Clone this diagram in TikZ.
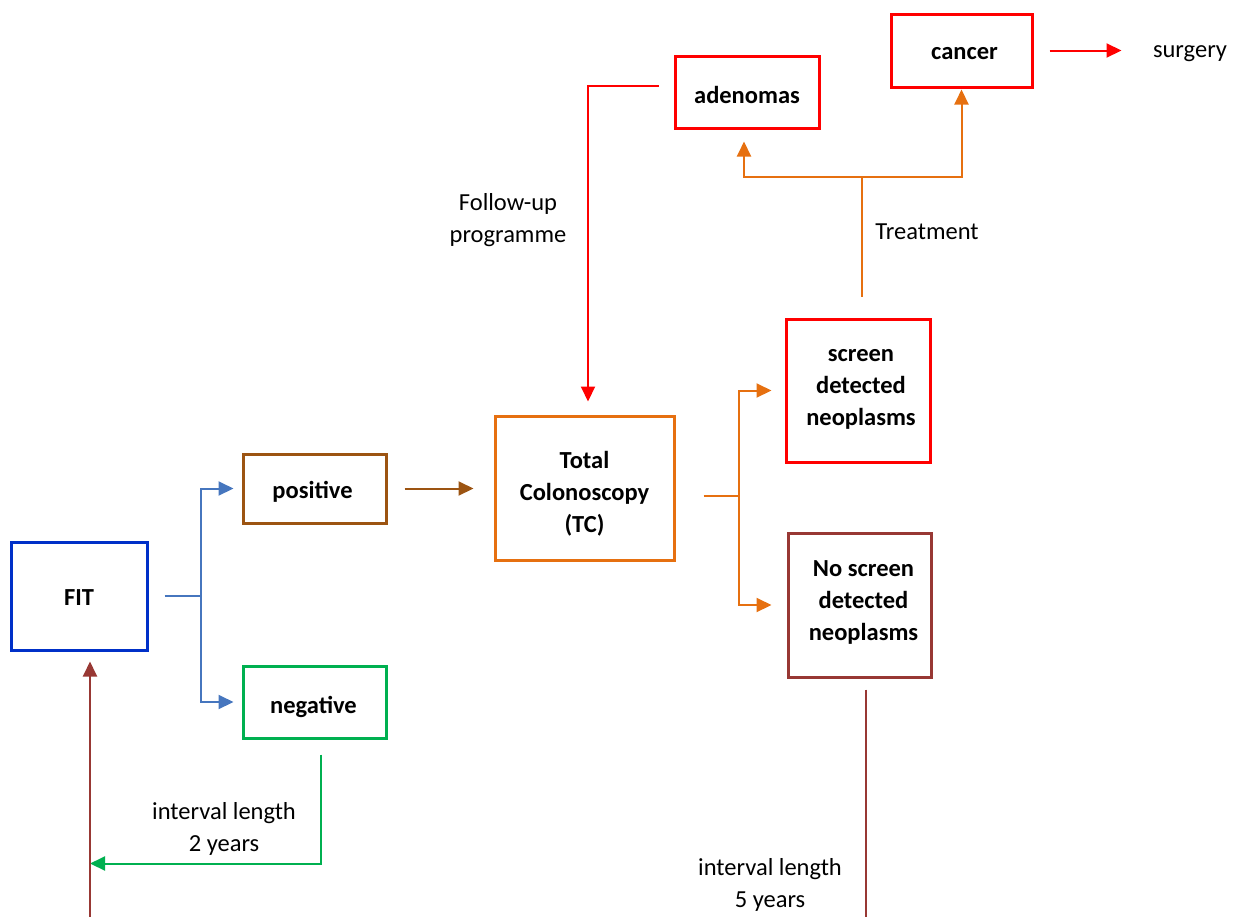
\documentclass[tikz,border=0pt]{standalone}
\usepackage{fontspec}
\setmainfont{Carlito}
\usetikzlibrary{arrows.meta,calc}
\definecolor{fitblue}{RGB}{0,48,200}
\definecolor{linkblue}{RGB}{70,118,190}
\definecolor{posbrown}{RGB}{156,84,18}
\definecolor{neggreen}{RGB}{0,176,80}
\definecolor{tcorange}{RGB}{230,112,16}
\definecolor{alarmred}{RGB}{255,0,0}
\definecolor{darkred}{RGB}{152,56,52}
\tikzset{
  x=1pt, y=-1pt,
  every node/.style={font=\fontsize{24.5}{32}\selectfont, align=center, inner sep=0pt, text=black},
  box/.style={draw, line width=3pt},
  boxtext/.style={font=\fontsize{24.5}{32}\selectfont\bfseries},
  link/.style={line width=2pt},
  tip/.style={-{Triangle[length=15pt,width=14pt]}},
}
\begin{document}
\begin{tikzpicture}
\useasboundingbox (0,0) rectangle (1238,916);

% boxes
\node[box, draw=fitblue, minimum width=136pt, minimum height=108pt] (fit) at (79,596) {};
\node[box, draw=posbrown, minimum width=143pt, minimum height=69pt] (pos) at (314.5,488.5) {};
\node[box, draw=neggreen, minimum width=143pt, minimum height=72pt] (neg) at (314.5,702) {};
\node[box, draw=tcorange, minimum width=179pt, minimum height=144pt] (tc) at (584.5,488) {};
\node[box, draw=alarmred, minimum width=144pt, minimum height=143pt] (sdn) at (858,390.5) {};
\node[box, draw=darkred, minimum width=143pt, minimum height=144pt] (nsdn) at (859.5,605) {};
\node[box, draw=alarmred, minimum width=144pt, minimum height=72pt] (aden) at (747,92) {};
\node[box, draw=alarmred, minimum width=141pt, minimum height=73pt] (canc) at (961.5,50.5) {};

% box captions
\node[boxtext] (fit-t) at ($(fit)+(0,2)$) {FIT};
\node[boxtext] (pos-t) at ($(pos)+(-2,3)$) {positive};
\node[boxtext] (neg-t) at ($(neg)+(-1,5)$) {negative};
\node[boxtext] (tc-t) at ($(tc)+(0,6)$) {Total\\Colonoscopy\\(TC)};
\node[boxtext] (sdn-t) at ($(sdn)+(3,-1)$) {screen\\detected\\neoplasms};
\node[boxtext] (nsdn-t) at ($(nsdn)+(4,-3)$) {No screen\\detected\\neoplasms};
\node[boxtext] (aden-t) at ($(aden)+(0,3)$) {adenomas};
\node[boxtext] (canc-t) at ($(canc)+(3,3)$) {cancer};

% free labels
\node (surg) at (1190,54) {surgery};
\node (fup) at (508,220) {Follow-up\\programme};
\node (treat) at (927,232) {Treatment};
\node (int2) at (224,829) {interval length\\2 years};
\node (int5) at (770,885) {interval length\\5 years};

% FIT result split
\draw[link, linkblue] ($(fit.east)+(16,0)$) -- ++(36,0) coordinate (fj);
\draw[link, linkblue, tip, shorten >=8pt] (fj) |- (pos.west);
\draw[link, linkblue, tip, shorten >=8pt] (fj) |- (neg.west);

% positive to colonoscopy
\draw[link, posbrown, tip, shorten <=17pt, shorten >=20pt] (pos.east) -- (pos.east -| tc.west);

% colonoscopy outcome split
\draw[link, tcorange] ($(tc.east)+(28,8)$) -- ++(35,0) coordinate (tj);
\draw[link, tcorange, tip, shorten >=13pt] (tj) |- (sdn.west);
\draw[link, tcorange, tip, shorten >=15pt] (tj) |- (nsdn.west);

% treatment branches
\draw[link, tcorange] ($(sdn.north)+(4,-21)$) -- ++(0,-120) coordinate (trj);
\draw[link, tcorange, tip, shorten >=12pt] (trj) -| ($(aden.south)+(-3,0)$);
\draw[link, tcorange, tip, shorten >=1pt] (trj) -| (canc.south);

% follow-up programme back to colonoscopy
\draw[link, alarmred, tip, shorten >=13pt] ($(aden.west)+(-15,-6)$) -| ($(tc.north)+(3.5,0)$);

% cancer to surgery
\draw[link, alarmred, tip] ($(canc.east)+(16,0)$) -- ++(72,0) coordinate (surgtip);

% negative: back to FIT after two years
\draw[link, neggreen, tip] ($(neg.south)+(6.5,15)$) |- ($(fit.south)+(11,212)$);
\draw[link, darkred, tip] ($(fit.south)+(11,266)$) -- ($(fit.south)+(11,10)$);

% no screen detected neoplasms: five-year interval
\draw[link, darkred] ($(nsdn.south)+(6.5,11)$) -- ++(0,228);
\end{tikzpicture}
\end{document}
